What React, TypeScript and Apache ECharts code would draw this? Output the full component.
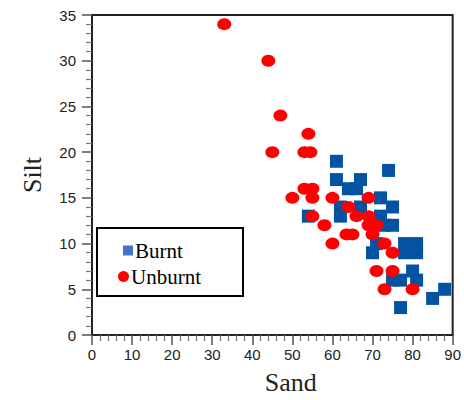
import React, { useEffect, useRef } from "react";
import * as echarts from "echarts";

// Soil texture samples: [sand %, silt %]
const burnt: [number, number][] = [
  [61, 19], [74, 18], [61, 17], [67, 17], [64, 16], [66, 16], [72, 15],
  [75, 14], [62, 14], [67, 14], [62, 13], [54, 13], [72, 13], [73, 12],
  [75, 12], [71, 10], [70, 9], [78, 10], [81, 10], [78, 9], [81, 9],
  [80, 7], [75, 6], [77, 6], [81, 6], [88, 5], [85, 4], [77, 3],
];

const unburnt: [number, number][] = [
  [33, 34], [44, 30], [47, 24], [54, 22], [45, 20], [53, 20], [54.5, 20],
  [53, 16], [55, 16], [50, 15], [55, 15], [60, 15], [69, 15], [64, 14],
  [66, 13], [69, 13], [55, 13], [58, 12], [69, 12], [71, 12], [70, 11],
  [63.5, 11], [65, 11], [60, 10], [73, 10], [75, 9], [71, 7], [75, 7],
  [73, 5], [80, 5],
];

const seriesNames = ["Burnt", "Unburnt"];
const xName = "Sand";
const yName = "Silt";

const serif = "'Liberation Serif', 'Times New Roman', serif";
const sans = "'Liberation Sans', Arial, sans-serif";

export default function App() {
  const ref = useRef<HTMLDivElement>(null);

  useEffect(() => {
    if (!ref.current) return;
    const chart = echarts.init(ref.current, null, { renderer: "svg" });

    const axisCommon = {
      axisLine: { show: true, onZero: false, lineStyle: { color: "#222", width: 2 } },
      axisTick: { show: true, inside: false, length: 10, lineStyle: { color: "#555", width: 1.5 } },
      minorTick: { show: true, splitNumber: 5, length: 6, lineStyle: { color: "#777", width: 1.2 } },
      splitLine: { show: false },
      nameTextStyle: { fontFamily: serif, fontSize: 26, color: "#222" },
    };

    chart.setOption({
      animation: false,
      backgroundColor: "#fff",
      grid: {
        left: 92,
        right: 11,
        top: 15,
        bottom: 63,
        show: true,
        borderColor: "#222",
        borderWidth: 2,
        backgroundColor: "transparent",
      },
      xAxis: {
        type: "value",
        min: 0,
        max: 90,
        interval: 10,
        name: xName,
        nameLocation: "middle",
        nameGap: 34,
        ...axisCommon,
        nameTextStyle: { ...axisCommon.nameTextStyle, padding: [0, 0, 0, 37] },
        axisLabel: { margin: 12, fontFamily: sans, fontSize: 15, color: "#222" },
      },
      yAxis: {
        type: "value",
        min: 0,
        max: 35,
        interval: 5,
        name: yName,
        nameLocation: "middle",
        nameGap: 47,
        ...axisCommon,
        axisLabel: { margin: 16, fontFamily: sans, fontSize: 15, color: "#222" },
      },
      legend: [
        {
          data: [{ name: seriesNames[0], icon: "rect", itemStyle: { color: "#4472c4" } }],
          left: 123,
          top: 240,
          padding: 0,
          itemWidth: 10,
          itemHeight: 10,
          selectedMode: false,
          textStyle: { fontFamily: serif, fontSize: 21, color: "#000", padding: [0, 0, 0, -3] },
        },
        {
          data: [{ name: seriesNames[1], icon: "circle", itemStyle: { color: "#ff0000" } }],
          left: 118,
          top: 266,
          padding: 0,
          itemWidth: 11,
          itemHeight: 11,
          selectedMode: false,
          textStyle: { fontFamily: serif, fontSize: 21, color: "#000", padding: [0, 0, 0, -3] },
        },
      ],
      graphic: [
        {
          type: "rect",
          left: 96,
          top: 227,
          shape: { width: 146, height: 68 },
          style: { fill: "transparent", stroke: "#000", lineWidth: 2 },
          z: 10,
        },
      ],
      series: [
        {
          name: seriesNames[0],
          type: "scatter",
          data: burnt,
          symbol: "rect",
          symbolSize: 13,
          itemStyle: { color: "#0453a3", opacity: 1 },
          z: 2,
        },
        {
          name: seriesNames[1],
          type: "scatter",
          data: unburnt,
          symbol: "circle",
          symbolSize: [14, 12],
          itemStyle: { color: "#ff0000", opacity: 1 },
          z: 3,
        },
      ],
    });

    return () => chart.dispose();
  }, []);

  return <div ref={ref} style={{ width: 464, height: 400, position: "absolute", left: 0, top: 0 }} />;
}
